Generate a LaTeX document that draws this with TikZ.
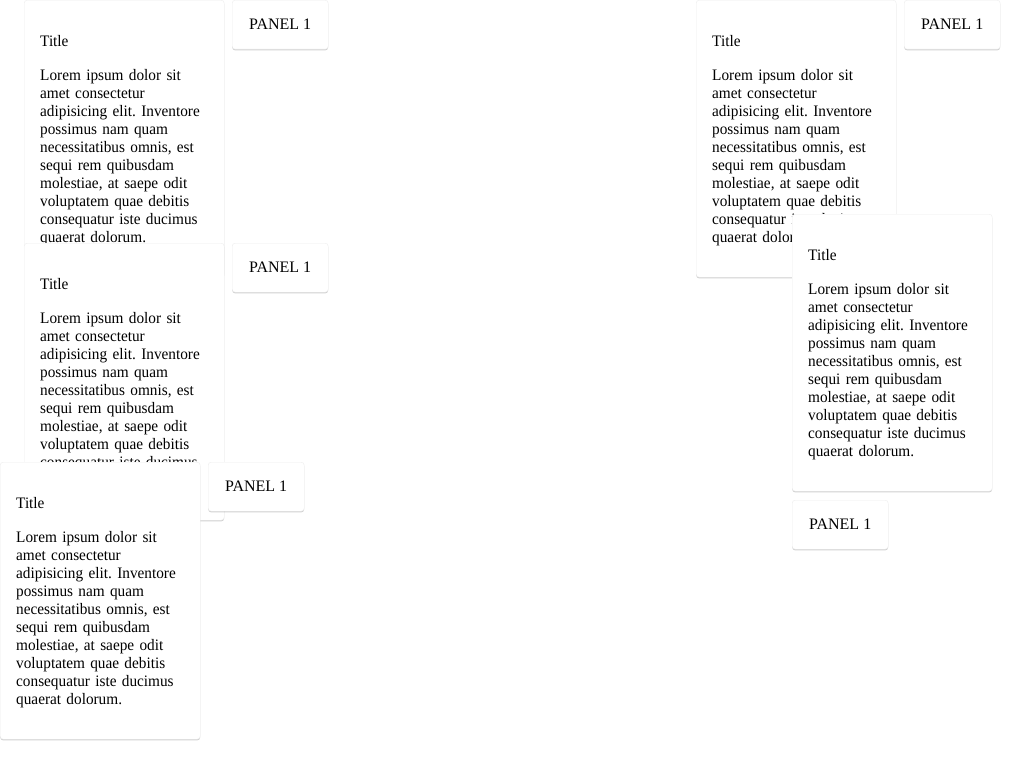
\documentclass[tikz,border=0pt]{standalone}
\usepackage{fontspec}
\setmainfont{Liberation Serif}
\newfontfamily\cardfont[FakeStretch=0.955]{Liberation Serif}
\frenchspacing
\usetikzlibrary{shadows}

\tikzstyle{card} = [rectangle, draw=black!7, line width=0.4pt, fill=white, rounded corners=3pt, minimum width=200pt, minimum height=277pt, inner sep=0pt, anchor=north west, drop shadow={fill=black, opacity=0.18, shadow xshift=0pt, shadow yshift=-1.2pt}]
\tikzstyle{pnl} = [rectangle, draw=black!7, line width=0.4pt, fill=white, rounded corners=3pt, minimum width=96pt, minimum height=49pt, inner sep=0pt, anchor=north west, font=\fontsize{16pt}{18pt}\selectfont, drop shadow={fill=black, opacity=0.18, shadow xshift=0pt, shadow yshift=-1.2pt}]
\tikzstyle{ttl} = [inner sep=0pt, anchor=base west, font=\cardfont\fontsize{16pt}{18pt}\selectfont]
\tikzstyle{txt} = [inner sep=0pt, anchor=base west, text width=180pt, align=left, font=\cardfont\fontsize{16pt}{18pt}\selectfont]

\newcommand{\loremtxt}{Lorem ipsum dolor sit\\ amet consectetur\\ adipisicing elit. Inventore\\ possimus nam quam\\ necessitatibus omnis, est\\ sequi rem quibusdam\\ molestiae, at saepe odit\\ voluptatem quae debitis\\ consequatur iste ducimus\\ quaerat dolorum.}

\begin{document}
\begin{tikzpicture}[x=1pt, y=-1pt]
    \fill [white] (0,0) rectangle (1024,768);
    \useasboundingbox (0,0) rectangle (1024,768);

    % Left column
    \node [card] (cardA) at (24,0) {};
    \node [ttl] (ttlA) at ([xshift=16pt, yshift=-46pt]cardA.north west) {Title};
    \node [txt] (txtA) at ([xshift=16pt, yshift=-80pt]cardA.north west) {\loremtxt};
    \node [pnl] (pnlA) at (232,0) {PANEL 1};

    \node [card] (cardB) at (24,243) {};
    \node [ttl] (ttlB) at ([xshift=16pt, yshift=-46pt]cardB.north west) {Title};
    \node [txt] (txtB) at ([xshift=16pt, yshift=-80pt]cardB.north west) {\loremtxt};
    \node [pnl] (pnlB) at (232,243) {PANEL 1};

    \node [card] (cardC) at (0,462) {};
    \node [ttl] (ttlC) at ([xshift=16pt, yshift=-46pt]cardC.north west) {Title};
    \node [txt] (txtC) at ([xshift=16pt, yshift=-80pt]cardC.north west) {\loremtxt};
    \node [pnl] (pnlC) at (208,462) {PANEL 1};

    % Right column
    \node [card] (cardD) at (696,0) {};
    \node [ttl] (ttlD) at ([xshift=16pt, yshift=-46pt]cardD.north west) {Title};
    \node [txt] (txtD) at ([xshift=16pt, yshift=-80pt]cardD.north west) {\loremtxt};
    \node [pnl] (pnlD) at (904,0) {PANEL 1};

    \node [card] (cardE) at (792,214) {};
    \node [ttl] (ttlE) at ([xshift=16pt, yshift=-46pt]cardE.north west) {Title};
    \node [txt] (txtE) at ([xshift=16pt, yshift=-80pt]cardE.north west) {\loremtxt};
    \node [pnl] (pnlE) at (792,500) {PANEL 1};

\end{tikzpicture}
\end{document}
